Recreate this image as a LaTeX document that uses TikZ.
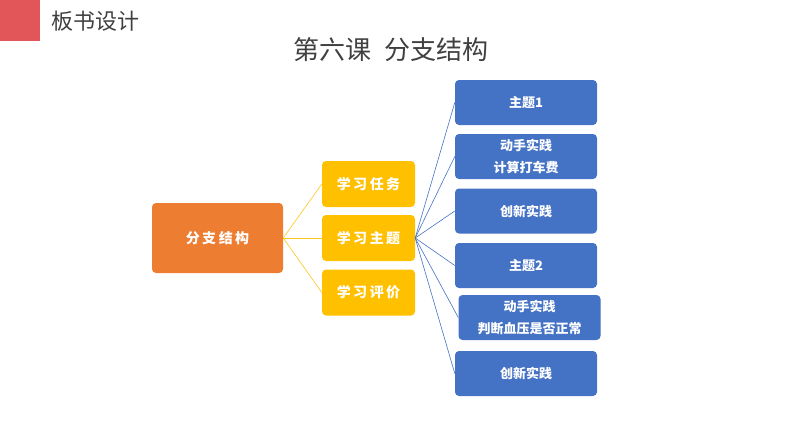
\documentclass[tikz,border=0pt]{standalone}
\usepackage{fontspec}
\newfontfamily\cjk{Noto Sans CJK SC}
\definecolor{orng}{HTML}{ED7D31}
\definecolor{yel}{HTML}{FFC000}
\definecolor{blu}{HTML}{4472C4}
\definecolor{redsq}{HTML}{E2565A}
\definecolor{ttl}{HTML}{404040}
\newcommand{\lsp}{\hspace{2.5pt}}
\begin{document}
\begin{tikzpicture}[x=1pt,y=-1pt,
  box/.style={rounded corners=4pt, inner sep=0pt, align=center, text=white, font=\cjk},
  obox/.style={box, fill=orng, minimum width=131pt, minimum height=70pt, font=\cjk\bfseries\fontsize{14}{18}\selectfont},
  ybox/.style={box, fill=yel, minimum width=93pt, minimum height=46pt, font=\cjk\bfseries\fontsize{14}{18}\selectfont},
  bbox/.style={box, fill=blu, minimum width=142pt, minimum height=45pt, font=\cjk\bfseries\fontsize{13}{22}\selectfont},
  yline/.style={draw=yel!90!white, line width=0.6pt},
  bline/.style={draw=blu, line width=0.6pt}]
\useasboundingbox (0,0) rectangle (794,447);
\fill[redsq] (0,0) rectangle (40,41);
\node[anchor=west, text=ttl, font=\cjk\fontsize{22}{24}\selectfont] (hdr) at (48,21) {板书设计};
\node[text=ttl, font=\cjk\fontsize{26}{30}\selectfont] (title) at (391,50) {第六课\hspace{0.5em}分支结构};
\node[obox] (root) at (217.5,238) {分\lsp 支\lsp 结\lsp 构};
\node[ybox] (y1) at (368.5,184) {学\lsp 习\lsp 任\lsp 务};
\node[ybox] (y2) at (368.5,238) {学\lsp 习\lsp 主\lsp 题};
\node[ybox] (y3) at (368.5,292.5) {学\lsp 习\lsp 评\lsp 价};
\node[bbox] (b1) at (526,102.5) {主题1};
\node[bbox] (b2) at (526,156.5) {动手实践\\计算打车费};
\node[bbox] (b3) at (526,211) {创新实践};
\node[bbox] (b4) at (526,265.5) {主题2};
\node[bbox] (b5) at (529.5,317.5) {动手实践\\判断血压是否正常};
\node[bbox] (b6) at (526,373.5) {创新实践};
\foreach \y in {y1,y2,y3} \draw[yline] (root.east) -- (\y.west);
\foreach \b in {b1,b2,b3,b4,b5,b6} \draw[bline] (y2.east) -- (\b.west);
\end{tikzpicture}
\end{document}
